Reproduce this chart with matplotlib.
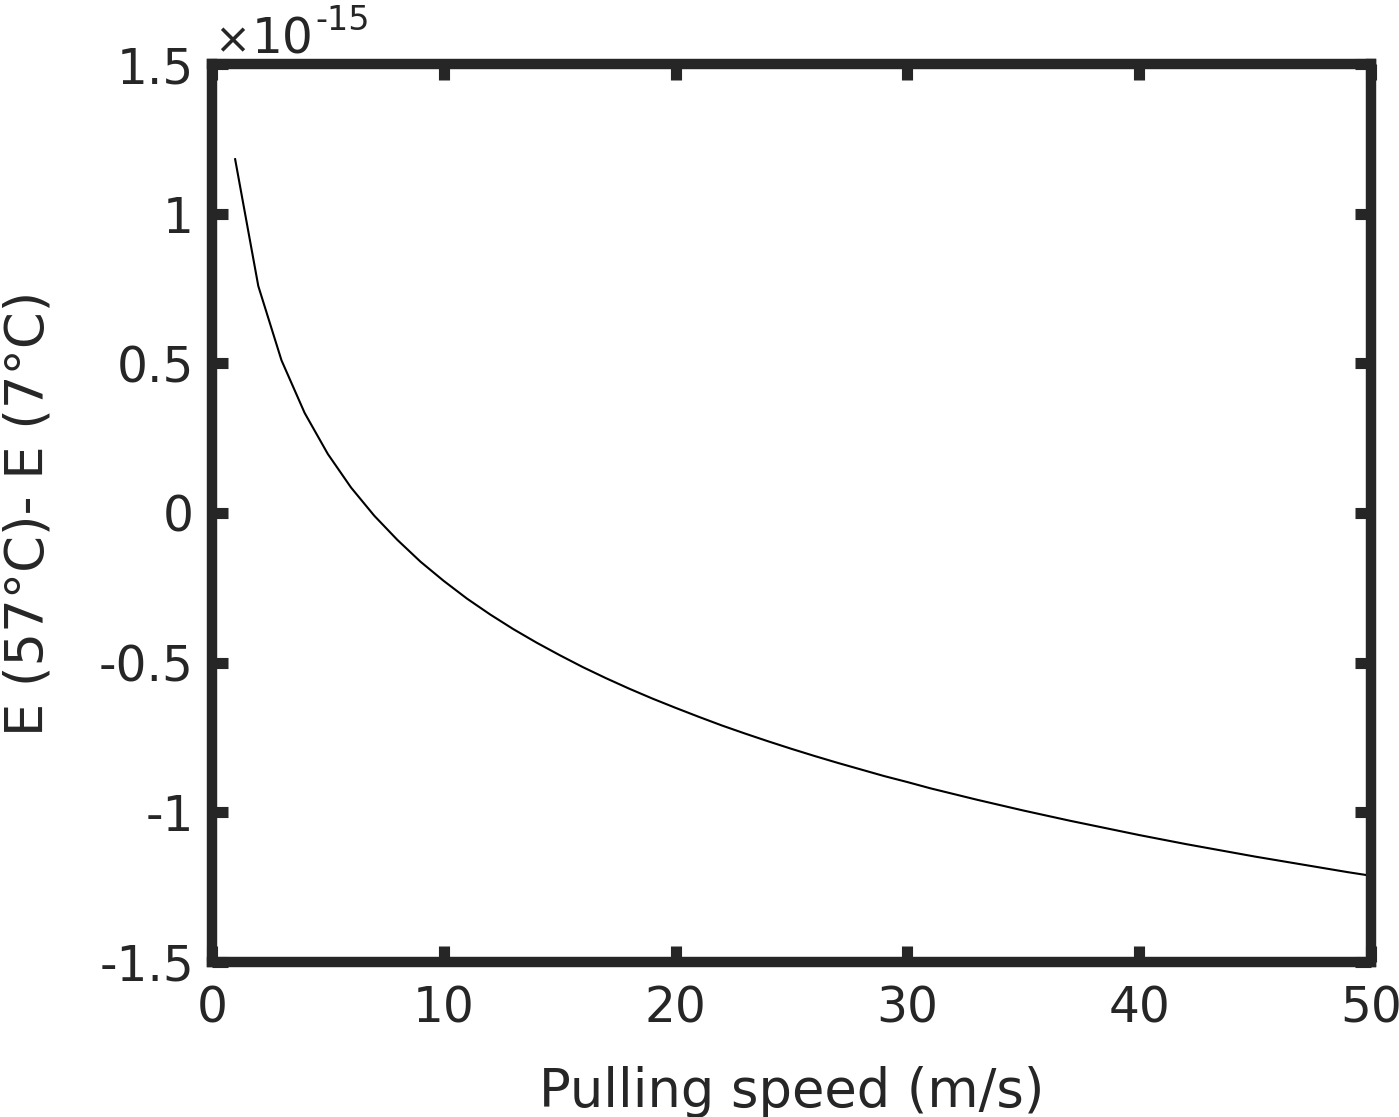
import matplotlib
matplotlib.use('Agg')
import matplotlib.pyplot as plt
from matplotlib.ticker import FuncFormatter

# 拉伸速度 (m/s) 与 E(57°C) - E(7°C)，单位 1e-15
speed = list(range(1, 51))
e_diff = [1.182, 0.758, 0.510, 0.334, 0.197, 0.085, -0.009, -0.090, -0.163, -0.227,
          -0.286, -0.339, -0.388, -0.433, -0.475, -0.515, -0.552, -0.587, -0.620, -0.651,
          -0.681, -0.710, -0.737, -0.763, -0.788, -0.812, -0.835, -0.857, -0.879, -0.899,
          -0.920, -0.939, -0.958, -0.976, -0.994, -1.011, -1.028, -1.044, -1.060, -1.076,
          -1.091, -1.106, -1.120, -1.134, -1.148, -1.161, -1.174, -1.187, -1.200, -1.212]
scale = 1e-15
x_ticks = [0, 10, 20, 30, 40, 50]
y_ticks = [-1.5, -1, -0.5, 0, 0.5, 1, 1.5]

plt.rcParams['font.family'] = ['DejaVu Sans']
plt.rcParams['axes.unicode_minus'] = False
dark = '#262626'

fig = plt.figure(figsize=(13.99, 11.17), dpi=100)
ax = fig.add_axes([0.1515, 0.1388, 0.8285, 0.8039])

ax.plot(speed, [v * scale for v in e_diff], color='black', linewidth=1.5)

ax.set_xlim(0, 50)
ax.set_ylim(-1.5 * scale, 1.5 * scale)
ax.set_xticks(x_ticks)
ax.set_yticks([t * scale for t in y_ticks])
ax.yaxis.set_major_formatter(FuncFormatter(lambda v, _: f'{v / scale:g}'))

for s in ax.spines.values():
    s.set_linewidth(7.5)
    s.set_color(dark)
ax.tick_params(direction='in', length=11.5, width=8, color=dark,
               top=True, right=True, labelsize=35, labelcolor=dark)
ax.tick_params(axis='x', pad=16)
ax.tick_params(axis='y', pad=13)

ax.set_xlabel('Pulling speed (m/s)', fontsize=38, color=dark, labelpad=24)
ax.set_ylabel('E (57°C)- E (7°C)', fontsize=38, color=dark, labelpad=32)

# 指数标注 ×10^-15
ax.text(0.002, 1.0122, '×', transform=ax.transAxes, fontsize=31, color=dark,
        ha='left', va='baseline')
ax.text(0.034, 1.0122, '10', transform=ax.transAxes, fontsize=35, color=dark,
        ha='left', va='baseline')
ax.text(0.0895, 1.038, '-15', transform=ax.transAxes, fontsize=24, color=dark,
        ha='left', va='baseline')

fig.savefig('out.png', dpi=100, facecolor='white')
